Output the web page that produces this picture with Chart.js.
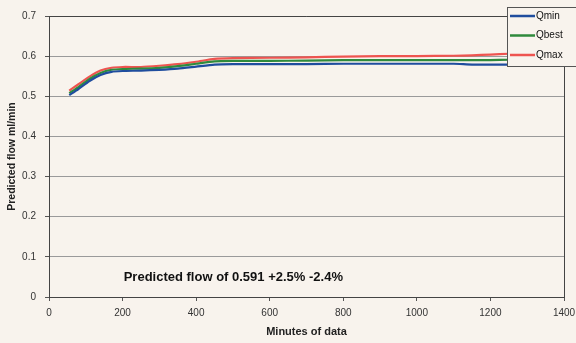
<!DOCTYPE html>
<html>
<head>
<meta charset="utf-8">
<script src="https://cdn.jsdelivr.net/npm/chart.js@4"></script>
<style>
  html, body { margin: 0; padding: 0; background: #f8f3ed; }
  #wrap { width: 576px; height: 343px; position: relative; }
</style>
</head>
<body>
<div id="wrap"><canvas id="c" width="576" height="343"></canvas></div>
<script>
// Minutes of data collected
const minutes = [55, 80, 110, 140, 170, 200, 250, 300, 350, 400, 450, 500, 600, 700, 800, 900, 1000, 1100, 1150, 1200, 1250, 1300];
// Predicted flow (ml/min) for the three estimates
const qmin  = [0.503, 0.518, 0.538, 0.553, 0.561, 0.563, 0.564, 0.566, 0.569, 0.574, 0.579, 0.580, 0.580, 0.580, 0.581, 0.581, 0.581, 0.581, 0.579, 0.579, 0.579, 0.579];
const qbest = [0.508, 0.523, 0.543, 0.558, 0.566, 0.568, 0.569, 0.571, 0.575, 0.581, 0.587, 0.588, 0.588, 0.589, 0.590, 0.590, 0.590, 0.590, 0.590, 0.590, 0.591, 0.591];
const qmax  = [0.514, 0.530, 0.549, 0.564, 0.571, 0.573, 0.573, 0.576, 0.580, 0.586, 0.593, 0.595, 0.596, 0.597, 0.599, 0.600, 0.600, 0.601, 0.602, 0.604, 0.606, 0.607];
const seriesNames = ['Qmin', 'Qbest', 'Qmax'];
const noteText = 'Predicted flow of 0.591 +2.5% -2.4%';
const xTitle = 'Minutes of data';
const yTitle = 'Predicted flow ml/min';

const FONT = '"Liberation Sans", Arial, sans-serif';
const colors = ['#1f4d9e', '#2f8a3c', '#ee5450'];

const toPoints = (ys) => ys.map((y, i) => ({ x: minutes[i], y }));

// Frame around the plot area plus the flow note
const framePlugin = {
  id: 'frame',
  beforeDatasetsDraw(chart) {
    const { ctx, chartArea: a } = chart;
    ctx.save();
    ctx.strokeStyle = '#444';
    ctx.lineWidth = 1;
    ctx.beginPath();
    ctx.moveTo(a.left, a.top + 0.5);
    ctx.lineTo(a.right + 0.5, a.top + 0.5);
    ctx.lineTo(a.right + 0.5, a.bottom);
    ctx.stroke();
    ctx.restore();
  },
  afterDraw(chart) {
    const { ctx, scales } = chart;
    ctx.save();
    ctx.font = 'bold 13px ' + FONT;
    ctx.fillStyle = '#111';
    ctx.textBaseline = 'middle';
    ctx.textAlign = 'left';
    ctx.fillText(noteText, scales.x.getPixelForValue(203), scales.y.getPixelForValue(0.05));
    ctx.restore();
  }
};

// Boxed legend that sits over the top-right corner of the plot
const boxLegend = {
  id: 'boxLegend',
  afterDraw(chart) {
    const { ctx } = chart;
    const x0 = 507, y0 = 7, w = 70, h = 59;
    ctx.save();
    ctx.fillStyle = '#f8f3ed';
    ctx.fillRect(x0, y0, w, h);
    ctx.strokeStyle = '#555';
    ctx.lineWidth = 1;
    ctx.strokeRect(x0 + 0.5, y0 + 0.5, w, h);
    ctx.font = '10px ' + FONT;
    ctx.textBaseline = 'middle';
    ctx.fillStyle = '#111';
    chart.data.datasets.forEach((ds, i) => {
      const y = y0 + 9 + i * 19.5;
      ctx.strokeStyle = ds.borderColor;
      ctx.lineWidth = 2.5;
      ctx.beginPath();
      ctx.moveTo(x0 + 3, y);
      ctx.lineTo(x0 + 28, y);
      ctx.stroke();
      ctx.fillText(ds.label, x0 + 29, y);
    });
    ctx.restore();
  }
};

new Chart(document.getElementById('c'), {
  type: 'line',
  data: {
    datasets: [qmin, qbest, qmax].map((ys, i) => ({
      label: seriesNames[i],
      data: toPoints(ys),
      borderColor: colors[i],
      backgroundColor: colors[i],
      borderWidth: 2.2,
      pointRadius: 0,
      tension: 0.2,
      fill: false
    }))
  },
  options: {
    responsive: false,
    animation: false,
    layout: { padding: { left: 0, top: 16, right: 12, bottom: 0 } },
    plugins: {
      legend: { display: false },
      tooltip: { enabled: false }
    },
    scales: {
      x: {
        type: 'linear',
        min: 0,
        max: 1400,
        ticks: {
          stepSize: 200, color: '#333', font: { family: FONT, size: 10 }, padding: 6, maxRotation: 0,
          callback: (v) => String(v)
        },
        grid: { drawOnChartArea: false, color: '#555', tickLength: 4 },
        border: { color: '#444', width: 1 },
        title: { display: true, text: xTitle, color: '#222', font: { family: FONT, size: 11, weight: 'bold' }, padding: { top: 3 } },
        afterFit(s) { s.height = 46; s.paddingLeft = 0; s.paddingRight = 0; }
      },
      y: {
        min: 0,
        max: 0.7,
        ticks: { stepSize: 0.1, color: '#333', font: { family: FONT, size: 10 }, padding: 9 },
        grid: { color: '#9a9a9a', tickLength: 4, tickColor: '#555' },
        border: { color: '#444', width: 1 },
        title: { display: true, text: yTitle, color: '#222', font: { family: FONT, size: 10.5, weight: 'bold' }, padding: { top: 6, bottom: 0 } },
        afterFit(s) { s.width = 49; s.paddingTop = 0; s.paddingBottom = 0; }
      }
    }
  },
  plugins: [framePlugin, boxLegend]
});
</script>
</body>
</html>
